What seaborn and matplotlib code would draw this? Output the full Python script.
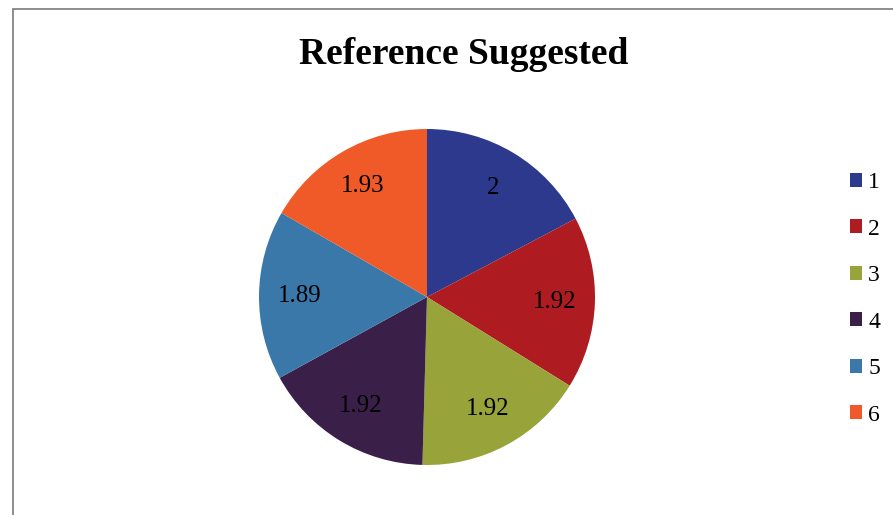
import matplotlib

matplotlib.use("Agg")
import matplotlib.pyplot as plt
import seaborn as sns
from matplotlib.patches import Rectangle

categories = ["1", "2", "3", "4", "5", "6"]
values = [2, 1.92, 1.92, 1.92, 1.89, 1.93]
colors = ["#2c398c", "#ae1c22", "#98a33a", "#3a2049", "#3a78aa", "#f05a28"]
title = "Reference Suggested"

sns.set_theme(style="white")
plt.rcParams["font.family"] = ["Liberation Serif", "DejaVu Serif"]
plt.rcParams["text.color"] = "black"

total = sum(values)

fig = plt.figure(figsize=(8.93, 5.15), dpi=100)
fig.patch.set_facecolor("white")

# pie axes: centre (427, 297) px, radius 168 px
cx, cy, r = 427, 297, 168
ax = fig.add_axes([(cx - r) / 893, (515 - cy - r) / 515, 2 * r / 893, 2 * r / 515])
wedges, _, autotexts = ax.pie(
    values,
    colors=colors,
    startangle=90,
    counterclock=False,
    autopct=lambda p: f"{round(p * total / 100, 2):g}",
    pctdistance=0.76,
    textprops={"fontsize": 18, "color": "black"},
    wedgeprops={"linewidth": 0},
)
ax.set_xlim(-1, 1)
ax.set_ylim(-1, 1)
ax.set_aspect("equal")

fig.text(464 / 893, 1 - 55 / 515, title, ha="center", va="center",
         fontsize=27, fontweight="bold", color="black")

fig.legend(
    wedges,
    categories,
    loc="center left",
    bbox_to_anchor=(850 / 893, 1 - 299 / 515),
    frameon=False,
    fontsize=17,
    labelcolor="black",
    handlelength=0.52,
    handleheight=0.52,
    handletextpad=0.25,
    labelspacing=1.08,
    borderpad=0,
    borderaxespad=0,
)

# chart-area frame (top and left edges visible)
fig.add_artist(Rectangle((13 / 893, -0.1), 1.2, 1 - 9 / 515 + 0.1,
                         transform=fig.transFigure, fill=False,
                         edgecolor="#7a7a7a", linewidth=1.2))

fig.savefig("out.png", dpi=100)
plt.close(fig)
